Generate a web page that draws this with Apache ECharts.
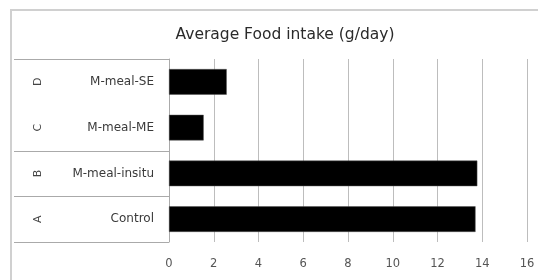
<!DOCTYPE html>
<html><head><meta charset="utf-8">
<script src="https://cdn.jsdelivr.net/npm/echarts@6/dist/echarts.min.js"></script>
<style>html,body{margin:0;padding:0;background:#fff}#c{width:538px;height:280px}</style>
</head><body><div id="c"></div>
<script>
const categories = ['Control', 'M-meal-insitu', 'M-meal-ME', 'M-meal-SE'];
const groupLetters = ['A', 'B', 'C', 'D'];
const values = [13.7, 13.78, 1.55, 2.58];
const xTicks = { min: 0, max: 16, interval: 2 };
const titleText = 'Average Food intake (g/day)';

const chart = echarts.init(document.getElementById('c'), null, { renderer: 'canvas' });
const font = 'DejaVu Sans, sans-serif';
chart.setOption({
  animation: false,
  backgroundColor: '#fff',
  title: {
    text: titleText, left: 280, top: 22, textAlign: 'center',
    textStyle: { fontFamily: font, fontSize: 15.5, fontWeight: 'normal', color: '#2a2a2a' }
  },
  grid: { left: 169, right: 11, top: 59, bottom: 38 },
  xAxis: {
    type: 'value', min: xTicks.min, max: xTicks.max, interval: xTicks.interval,
    axisLine: { show: false }, axisTick: { show: false },
    axisLabel: { margin: 16, fontFamily: font, fontSize: 11.5, color: '#555' },
    splitLine: { lineStyle: { color: '#bdbdbd', width: 1 } }
  },
  yAxis: [
    {
      type: 'category', data: categories, position: 'left',
      axisLine: { show: true, lineStyle: { color: '#aaa' } },
      axisTick: { show: false },
      axisLabel: { margin: 15, fontFamily: font, fontSize: 12, color: '#3a3a3a' }
    },
    {
      type: 'category', data: groupLetters, position: 'left',
      axisLine: { show: false }, axisTick: { show: false },
      axisLabel: { margin: 131, rotate: 90, fontFamily: font, fontSize: 11, color: '#444', align: 'center', verticalAlign: 'middle' }
    }
  ],
  series: [{
    type: 'bar', data: values, yAxisIndex: 0, barCategoryGap: '44%',
    itemStyle: { color: '#000', borderColor: '#555', borderWidth: 0.5 }
  }]
});

// decorative separators in the label area, positioned from the axis scale
const c0 = chart.convertToPixel({ yAxisIndex: 0 }, categories[0]);
const c1 = chart.convertToPixel({ yAxisIndex: 0 }, categories[1]);
const step = c0 - c1;
const x0 = chart.convertToPixel({ xAxisIndex: 0 }, 0);
const boundaries = [0, 1, 2, 4];
const lines = boundaries.map(b => {
  const y = Math.round(c0 + step / 2 - b * step) + 0.5;
  return { type: 'line', shape: { x1: 14, y1: y, x2: x0, y2: y }, style: { stroke: '#aaa', lineWidth: 1 } };
});
chart.setOption({
  graphic: [
    { type: 'rect', shape: { x: 11, y: 10, width: 600, height: 400 }, style: { fill: 'none', stroke: '#d0d0d0', lineWidth: 2 }, z: -1 },
    ...lines
  ]
});
</script></body></html>
